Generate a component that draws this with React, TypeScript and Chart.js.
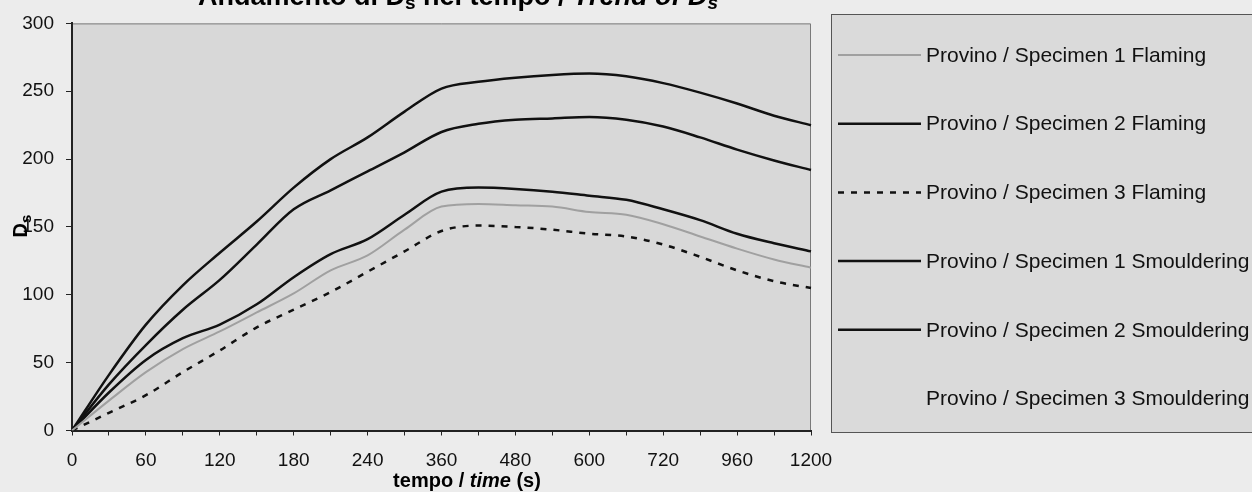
import { useEffect, useRef } from 'react';
import { Chart, registerables } from 'chart.js';

Chart.register(...registerables);

// x categories (seconds) and the tick labels that are printed
const timeCategories = [0, 30, 60, 90, 120, 150, 180, 210, 240, 300, 360, 420, 480, 540, 600, 660, 720, 840, 960, 1080, 1200];
const shownTickLabels = [0, 60, 120, 180, 240, 360, 480, 600, 720, 960, 1200];

// Ds values per series
const flaming1 = [0, 22, 43, 60, 73, 87, 101, 118, 129, 148, 165, 167, 166, 165, 161, 159, 152, 143, 134, 126, 120];
const flaming2 = [0, 28, 52, 68, 78, 93, 113, 130, 141, 159, 176, 179, 178, 176, 173, 170, 163, 155, 145, 138, 132];
const flaming3 = [0, 13, 26, 43, 59, 76, 89, 102, 117, 132, 147, 151, 150, 148, 145, 143, 137, 128, 118, 110, 105];
const smouldering1 = [0, 41, 78, 107, 131, 154, 179, 200, 216, 235, 252, 257, 260, 262, 263, 261, 256, 249, 241, 232, 225];
const smouldering2 = [0, 34, 63, 89, 111, 137, 163, 177, 191, 205, 220, 226, 229, 230, 231, 229, 224, 216, 207, 199, 192];
const smouldering3: (number | null)[] = [];

const seriesLabels = [
  'Provino / Specimen 1 Flaming',
  'Provino / Specimen 2 Flaming',
  'Provino / Specimen 3 Flaming',
  'Provino / Specimen 1 Smouldering',
  'Provino / Specimen 2 Smouldering',
  'Provino / Specimen 3 Smouldering',
];

const FONT = '"Liberation Sans", Arial, sans-serif';

type Seg = { t: string; font: string; dy?: number };

function drawRich(ctx: CanvasRenderingContext2D, segs: Seg[], cx: number, baseline: number) {
  let total = 0;
  for (const s of segs) {
    ctx.font = s.font;
    total += ctx.measureText(s.t).width;
  }
  let x = cx - total / 2;
  ctx.textAlign = 'left';
  ctx.textBaseline = 'alphabetic';
  for (const s of segs) {
    ctx.font = s.font;
    ctx.fillText(s.t, x, baseline + (s.dy || 0));
    x += ctx.measureText(s.t).width;
  }
}

const decorPlugin = {
  id: 'decor',
  beforeDraw(chart: any) {
    const { ctx, chartArea } = chart;
    ctx.save();
    ctx.fillStyle = '#ececec';
    ctx.fillRect(0, 0, chart.width, chart.height);
    ctx.fillStyle = '#d8d8d8';
    ctx.fillRect(chartArea.left, chartArea.top, chartArea.right - chartArea.left, chartArea.bottom - chartArea.top);
    ctx.strokeStyle = '#7a7a7a';
    ctx.lineWidth = 1;
    ctx.beginPath();
    ctx.moveTo(chartArea.left, chartArea.top + 0.5);
    ctx.lineTo(chartArea.right - 0.5, chartArea.top + 0.5);
    ctx.lineTo(chartArea.right - 0.5, chartArea.bottom);
    ctx.stroke();
    ctx.restore();
  },
  afterDraw(chart: any) {
    const { ctx } = chart;
    ctx.save();
    ctx.fillStyle = '#000';
    // title (cut at top)
    drawRich(ctx, [
      { t: 'Andamento di D', font: `bold 27px ${FONT}` },
      { t: 's', font: `bold 19px ${FONT}`, dy: 4 },
      { t: ' nel tempo / ', font: `bold 27px ${FONT}` },
      { t: 'Trend of D', font: `italic bold 27px ${FONT}` },
      { t: 's', font: `italic bold 19px ${FONT}`, dy: 4 },
    ], 458, 5);
    // x axis title
    drawRich(ctx, [
      { t: 'tempo / ', font: `bold 20px ${FONT}` },
      { t: 'time', font: `italic bold 20px ${FONT}` },
      { t: ' (s)', font: `bold 20px ${FONT}` },
    ], 467, 487);
    // y axis title
    ctx.save();
    ctx.translate(27, 226);
    ctx.rotate(-Math.PI / 2);
    drawRich(ctx, [
      { t: 'D', font: `bold 20px ${FONT}` },
      { t: 's', font: `bold 15px ${FONT}`, dy: 4 },
    ], 0, 0);
    ctx.restore();

    // legend box
    const lx = 831, ly = 14, lb = 432;
    ctx.fillStyle = '#dadada';
    ctx.fillRect(lx, ly, chart.width - lx + 5, lb - ly);
    ctx.strokeStyle = '#555';
    ctx.lineWidth = 1;
    ctx.strokeRect(lx + 0.5, ly + 0.5, chart.width - lx + 5, lb - ly);

    chart.data.datasets.forEach((ds: any, i: number) => {
      const y = 55 + i * 68.7;
      if (ds.data.length > 0) {
        ctx.save();
        ctx.strokeStyle = ds.borderColor;
        ctx.lineWidth = ds.borderWidth;
        ctx.setLineDash(ds.borderDash || []);
        ctx.beginPath();
        ctx.moveTo(838, y);
        ctx.lineTo(921, y);
        ctx.stroke();
        ctx.restore();
      }
      ctx.fillStyle = '#111';
      ctx.font = `21px ${FONT}`;
      ctx.textAlign = 'left';
      ctx.textBaseline = 'middle';
      ctx.fillText(ds.label, 926, y + 1);
    });
    ctx.restore();
  },
};

export default function App() {
  const ref = useRef<HTMLCanvasElement | null>(null);
  useEffect(() => {
    if (!ref.current) return;
    const mk = (label: string, data: (number | null)[], color: string, width: number, dash?: number[]) => ({
      label,
      data,
      borderColor: color,
      backgroundColor: color,
      borderWidth: width,
      borderDash: dash || [],
      pointRadius: 0,
      fill: false,
      tension: 0.4,
      cubicInterpolationMode: 'monotone' as const,
    });
    const chart = new Chart(ref.current, {
      type: 'line',
      data: {
        labels: timeCategories.map(String),
        datasets: [
          mk(seriesLabels[0], flaming1, '#a0a0a0', 2),
          mk(seriesLabels[1], flaming2, '#111', 2.5),
          mk(seriesLabels[2], flaming3, '#111', 2.5, [6, 7]),
          mk(seriesLabels[3], smouldering1, '#111', 2.5),
          mk(seriesLabels[4], smouldering2, '#111', 2.5),
          mk(seriesLabels[5], smouldering3, 'rgba(0,0,0,0)', 2.5),
        ],
      },
      options: {
        responsive: false,
        animation: false,
        devicePixelRatio: 1,
        layout: { padding: { top: 20, right: 441, left: 0, bottom: 0 } },
        plugins: { legend: { display: false }, title: { display: false }, tooltip: { enabled: false } },
        scales: {
          x: {
            type: 'category',
            offset: false,
            grid: { display: true, drawOnChartArea: false, tickLength: 5, color: '#222', offset: false },
            border: { display: true, color: '#222', width: 2 },
            ticks: {
              autoSkip: false,
              maxRotation: 0,
              padding: 14,
              color: '#111',
              font: { family: FONT, size: 19 },
              callback: (_v: any, i: number) => (shownTickLabels.includes(timeCategories[i]) ? String(timeCategories[i]) : ''),
            },
            afterFit: (s: any) => { s.height = 61.5; },
          },
          y: {
            min: 0,
            max: 300,
            ticks: { stepSize: 50, padding: 12, color: '#111', font: { family: FONT, size: 19 } },
            grid: { display: true, drawOnChartArea: false, tickLength: 6, color: '#222' },
            border: { display: true, color: '#222', width: 2 },
            afterFit: (s: any) => { s.width = 72; },
          },
        },
      },
      plugins: [decorPlugin],
    });
    return () => chart.destroy();
  }, []);
  return (
    <div style={{ position: 'fixed', left: 0, top: 0, width: 1252, height: 492 }}>
      <canvas ref={ref} width={1252} height={492} />
    </div>
  );
}
